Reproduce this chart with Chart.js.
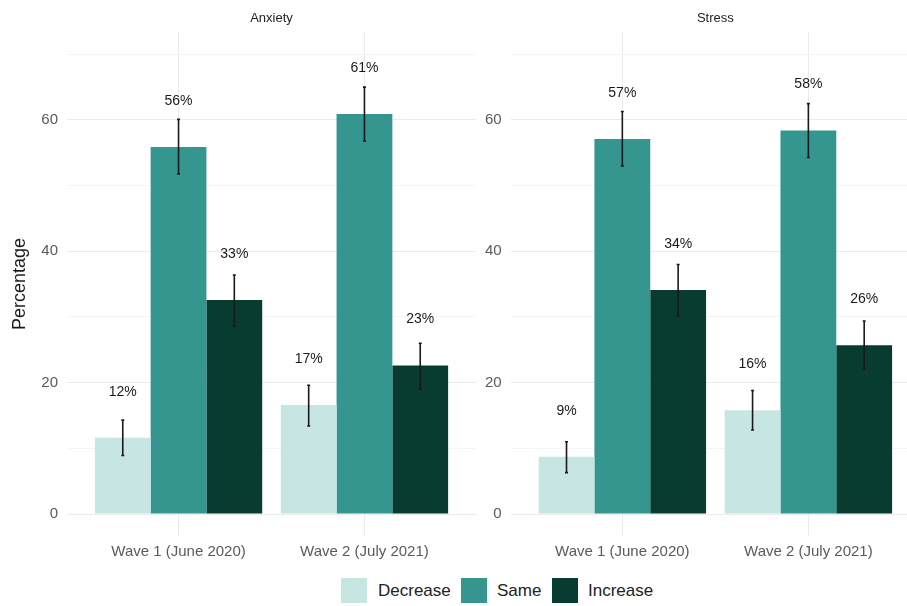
<!DOCTYPE html>
<html>
<head>
<meta charset="utf-8">
<script src="https://cdn.jsdelivr.net/npm/chart.js@4/dist/chart.umd.min.js"></script>
<style>
  html, body { margin: 0; padding: 0; background: #fff; width: 907px; height: 606px; overflow: hidden; position: relative; font-family: "Liberation Sans", Arial, sans-serif; }
  canvas { position: absolute; top: 0; }
  #left { left: 0; }
  #right { left: 478px; }
  .legend { position: absolute; top: 578px; left: 0; height: 26px; }
  .key { position: absolute; top: 0; width: 26px; height: 25px; }
  .lab { position: absolute; top: 3px; font-size: 17px; color: #222; white-space: nowrap; }
</style>
</head>
<body>
<canvas id="left" width="478" height="565"></canvas>
<canvas id="right" width="457" height="565"></canvas>
<div class="legend">
  <div class="key" style="left:341px;background:#c7e6e3"></div><div class="lab" style="left:378px">Decrease</div>
  <div class="key" style="left:461px;background:#35968f"></div><div class="lab" style="left:497px">Same</div>
  <div class="key" style="left:552px;background:#083c30"></div><div class="lab" style="left:588px">Increase</div>
</div>
<script>
// categories
const waves = ['Wave 1 (June 2020)', 'Wave 2 (July 2021)'];
const responses = ['Decrease', 'Same', 'Increase'];
const colors = ['#c7e6e3', '#35968f', '#083c30'];
const yTicks = [0, 10, 20, 30, 40, 50, 60, 70];

// Anxiety (%), per wave
const anxietyDecrease = [11.6, 16.6];
const anxietySame = [55.9, 60.9];
const anxietyIncrease = [32.6, 22.6];
const anxietyLow = [[8.9, 13.4], [51.8, 56.8], [28.6, 19.0]];
const anxietyHigh = [[14.3, 19.6], [60.1, 65.0], [36.4, 26.0]];

// Stress (%), per wave
const stressDecrease = [8.7, 15.8];
const stressSame = [57.1, 58.4];
const stressIncrease = [34.1, 25.7];
const stressLow = [[6.3, 12.8], [53.0, 54.3], [30.2, 22.0]];
const stressHigh = [[11.0, 18.8], [61.3, 62.5], [38.0, 29.4]];

// error bars + value labels
const barExtras = {
    id: 'barExtras',
    afterDatasetsDraw(chart, args, opts) {
        const ctx = chart.ctx;
        const y = chart.scales.y;
        chart.data.datasets.forEach((ds, di) => {
            const meta = chart.getDatasetMeta(di);
            meta.data.forEach((bar, i) => {
                const lo = y.getPixelForValue(opts.low[di][i]);
                const hi = y.getPixelForValue(opts.high[di][i]);
                ctx.save();
                ctx.strokeStyle = '#1a1a1a';
                ctx.lineWidth = 1.6;
                ctx.beginPath();
                ctx.moveTo(bar.x, lo); ctx.lineTo(bar.x, hi);
                ctx.moveTo(bar.x - 1.5, lo); ctx.lineTo(bar.x + 1.5, lo);
                ctx.moveTo(bar.x - 1.5, hi); ctx.lineTo(bar.x + 1.5, hi);
                ctx.stroke();
                const v = ds.data[i].y;
                ctx.fillStyle = '#1a1a1a';
                ctx.font = '14px "Liberation Sans", Arial, sans-serif';
                ctx.textAlign = 'center';
                ctx.textBaseline = 'middle';
                ctx.fillText(Math.round(v) + '%', bar.x, y.getPixelForValue(v + 7));
                ctx.restore();
            });
        });
    }
};

// facet strip title
const strip = {
    id: 'strip',
    afterDraw(chart, args, opts) {
        const ctx = chart.ctx;
        const a = chart.chartArea;
        ctx.save();
        ctx.fillStyle = '#222';
        ctx.font = '13px "Liberation Sans", Arial, sans-serif';
        ctx.textAlign = 'center';
        ctx.textBaseline = 'middle';
        ctx.fillText(opts.text, (a.left + a.right) / 2, 18);
        ctx.restore();
    }
};

function makeChart(id, title, series, low, high, yWidth, padRight, showTitle) {
    new Chart(document.getElementById(id), {
        type: 'bar',
        data: {
            datasets: responses.map((r, k) => ({
                label: r,
                data: series[k].map((v, i) => ({ x: i + 1, y: v })),
                backgroundColor: colors[k],
                borderWidth: 0
            }))
        },
        options: {
            responsive: false,
            animation: false,
            categoryPercentage: 0.9,
            barPercentage: 1.0,
            layout: { padding: { top: 32, right: padRight, left: 0, bottom: 0 } },
            scales: {
                x: {
                    type: 'linear',
                    min: 0.4,
                    max: 2.6,
                    offset: false,
                    afterBuildTicks: s => { s.ticks = [{ value: 1 }, { value: 2 }]; },
                    afterFit: s => { s.height = 29; },
                    grid: { color: '#ebebeb', lineWidth: 1, drawTicks: false, offset: false },
                    border: { display: false },
                    ticks: {
                        padding: 7,
                        color: '#5a5a5a',
                        font: { family: '"Liberation Sans", Arial, sans-serif', size: 15 },
                        callback: v => waves[v - 1]
                    }
                },
                y: {
                    min: -3.35,
                    max: 73.4,
                    afterBuildTicks: s => { s.ticks = yTicks.map(v => ({ value: v })); },
                    afterFit: s => { s.width = yWidth; },
                    grid: {
                        drawTicks: false,
                        lineWidth: 1,
                        color: c => (c.tick && c.tick.value % 20 === 0) ? '#ebebeb' : '#f4f4f4'
                    },
                    border: { display: false },
                    ticks: {
                        padding: 9,
                        color: '#5a5a5a',
                        font: { family: '"Liberation Sans", Arial, sans-serif', size: 15 },
                        callback: v => (v % 20 === 0 ? v : '')
                    },
                    title: {
                        display: showTitle,
                        text: 'Percentage',
                        color: '#1a1a1a',
                        font: { family: '"Liberation Sans", Arial, sans-serif', size: 18 },
                        padding: { top: 9, bottom: 0 }
                    }
                }
            },
            plugins: {
                legend: { display: false },
                tooltip: { enabled: false },
                strip: { text: title },
                barExtras: { low: low, high: high }
            }
        },
        plugins: [barExtras, strip]
    });
}

makeChart('left', 'Anxiety', [anxietyDecrease, anxietySame, anxietyIncrease], anxietyLow, anxietyHigh, 67, 2, true);
makeChart('right', 'Stress', [stressDecrease, stressSame, stressIncrease], stressLow, stressHigh, 32.7, 15, false);
</script>
</body>
</html>
